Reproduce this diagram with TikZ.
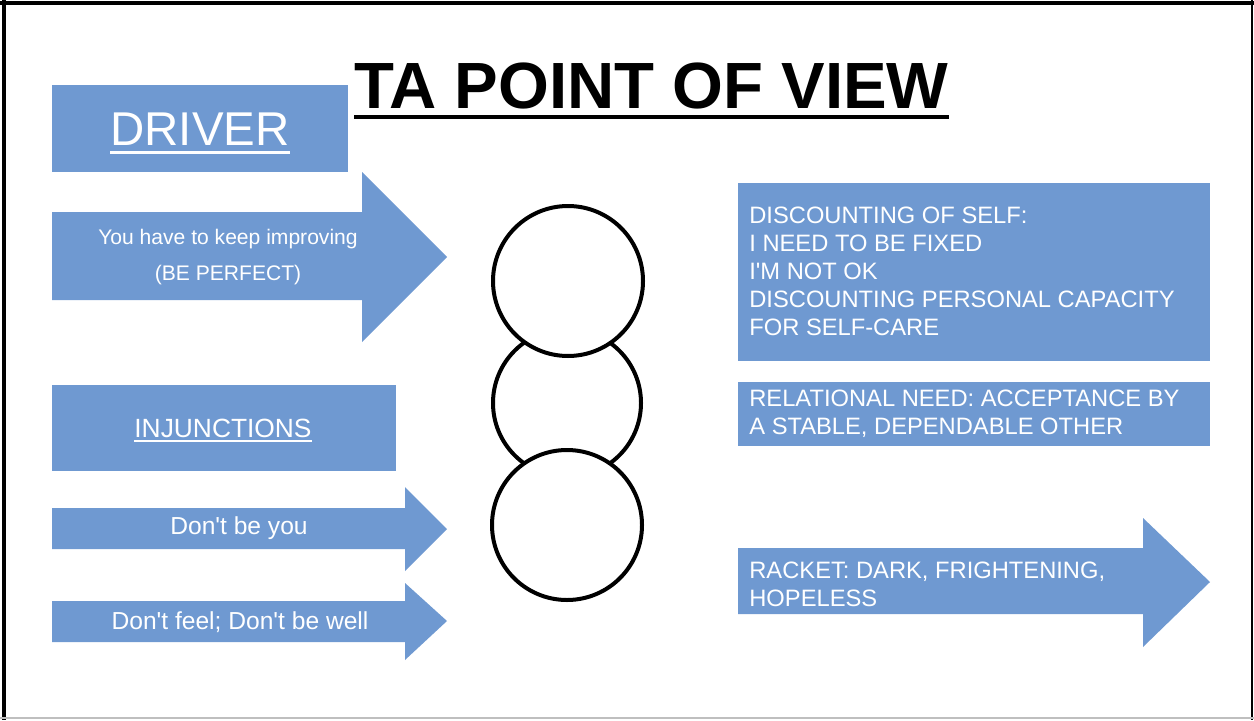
\documentclass[tikz,border=0pt]{standalone}
\usepackage{fontspec}
\setmainfont{Liberation Sans}
\definecolor{boxblue}{RGB}{111,153,209}
\tikzset{
  armtext/.style={text=white, inner sep=0pt, align=center},
  boxtext/.style={text=white, inner sep=0pt, align=left, anchor=north west,
    font=\fontsize{13.5}{15.9}\selectfont},
  ring/.style={draw=black, fill=white, line width=0.08cm}
}
\begin{document}
\begin{tikzpicture}[x=0.02cm,y=-0.02cm]
\useasboundingbox (0,0) rectangle (1254,720);
% frame
\draw [line width=0.07cm] (0,3) -- (1254,3);
\draw [line width=0.07cm] (4,0) -- (4,720);
\draw [line width=0.05cm] (1252,0) -- (1252,720);
\draw [black!25, line width=0.04cm] (0,718) -- (1254,718);
% title
\node [inner sep=0pt, anchor=base west, font=\fontsize{37.2}{40}\selectfont\bfseries] (title) at (354,108) {TA POINT OF VIEW};
\draw [line width=0.08cm] ([yshift=-0.18cm]title.base west) -- ([yshift=-0.18cm]title.base east);
% driver
\fill [boxblue] (52,85) rectangle (348,172);
\node [armtext, anchor=base, font=\fontsize{27}{30}\selectfont] (driver) at (200,145) {DRIVER};
\draw [white, line width=0.06cm] ([yshift=-0.14cm]driver.base west) -- ([yshift=-0.14cm]driver.base east);
\fill [boxblue] (52,212) -- (362,212) -- (362,172) -- (447,257) -- (362,342) -- (362,300) -- (52,300) -- cycle;
\node [armtext, font=\fontsize{12}{21}\selectfont] (perfect) at (228,257) {You have to keep improving\\(BE PERFECT)};
% injunctions
\fill [boxblue] (52,385) rectangle (396,471);
\node [armtext, anchor=base, font=\fontsize{15}{18}\selectfont] (injunct) at (223,437) {INJUNCTIONS};
\draw [white, line width=0.04cm] ([yshift=-0.08cm]injunct.base west) -- ([yshift=-0.08cm]injunct.base east);
\fill [boxblue] (52,508) -- (405,508) -- (405,487) -- (447,529) -- (405,571) -- (405,549) -- (52,549) -- cycle;
\node [armtext, font=\fontsize{14}{17}\selectfont] (notyou) at (239,528) {Don\textquotesingle t be you};
\fill [boxblue] (52,601) -- (405,601) -- (405,583) -- (447,621) -- (405,660) -- (405,642) -- (52,642) -- cycle;
\node [armtext, font=\fontsize{14}{17}\selectfont] (notfeel) at (240,622) {Don\textquotesingle t feel; Don\textquotesingle t be well};
% circles
\draw [ring] (567,403) circle (74);
\draw [ring] (568,281) circle (75);
\draw [ring] (567,525) circle (75);
% right side
\fill [boxblue] (738,183) rectangle (1210,361);
\node [boxtext] (discount) at (749,207) {DISCOUNTING OF SELF:\\I NEED TO BE FIXED\\I\textquotesingle M NOT OK\\DISCOUNTING PERSONAL CAPACITY\\FOR SELF-CARE};
\fill [boxblue] (738,382) rectangle (1210,446);
\node [boxtext] (relneed) at (749,390) {RELATIONAL NEED: ACCEPTANCE BY\\A STABLE, DEPENDABLE OTHER};
\fill [boxblue] (738,548) -- (1143,548) -- (1143,518) -- (1210,582) -- (1143,647) -- (1143,614) -- (738,614) -- cycle;
\node [boxtext] (racket) at (749,562) {RACKET: DARK, FRIGHTENING,\\HOPELESS};
\end{tikzpicture}
\end{document}
